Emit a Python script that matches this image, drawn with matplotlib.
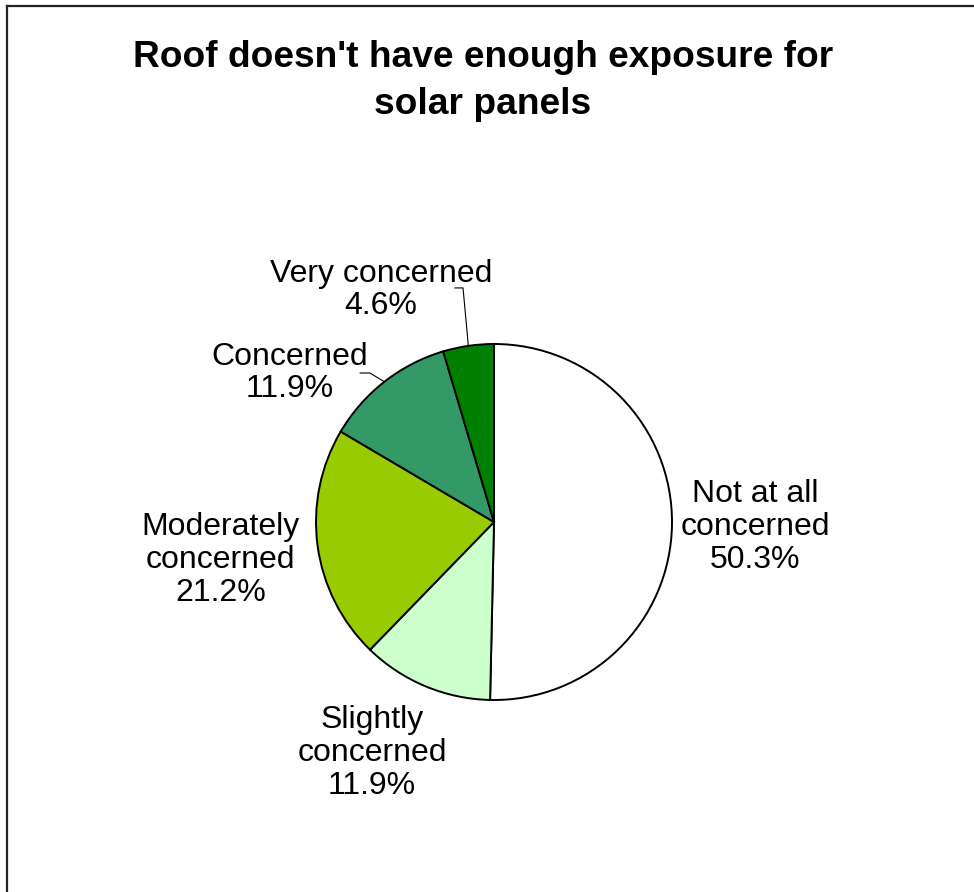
import matplotlib
matplotlib.use('Agg')
from matplotlib import pyplot as plt
from matplotlib import lines
import numpy as np

plt.rcParams['font.family'] = ['Liberation Sans', 'DejaVu Sans']

W, H = 974, 892

title = "Roof doesn't have enough exposure for\nsolar panels"
categories = ['Not at all\nconcerned', 'Slightly\nconcerned', 'Moderately\nconcerned',
              'Concerned', 'Very concerned']
shares = [50.3, 11.9, 21.2, 11.9, 4.6]
colors = ['#FFFFFF', '#CCFFCC', '#99CC00', '#339966', '#008000']

# label centres in pie-radius units (layout only)
label_pos = [(1.466, -0.028), (-0.685, -1.298), (-1.535, -0.213),
             (-1.146, 0.837), (-0.635, 1.303)]
# leader line elbows for the two small wedges on top (index -> start, elbow)
leaders = {4: [(-0.219, 1.315), (-0.174, 1.315)],
           3: [(-0.752, 0.837), (-0.697, 0.837)]}

# ----------------------------------------------------------------------------------------------------
def px(x, y):
    return x / W, 1 - y / H

fig = plt.figure(figsize=(W / 100, H / 100), dpi=100)

# frame (top and left edges visible)
fig.add_artist(lines.Line2D([7 / W, 1.0], [1 - 6 / H, 1 - 6 / H], color='#222222', lw=1.6))
fig.add_artist(lines.Line2D([7 / W, 7 / W], [1 - 6 / H, 0.0], color='#222222', lw=1.6))

fig.text(*px(483, 81), title, ha='center', va='center', fontsize=26.7,
         fontweight='bold', linespacing=1.45)

cx, cy, r = 494, 522, 178
ax = fig.add_axes([(cx - r) / W, (H - cy - r) / H, 2 * r / W, 2 * r / H])
wedges, _ = ax.pie(shares, colors=colors, startangle=90, counterclock=False,
                   radius=1.0, wedgeprops=dict(edgecolor='black', linewidth=1.4))
ax.set_xlim(-1, 1)
ax.set_ylim(-1, 1)
ax.set_aspect('equal')
ax.axis('off')

for i, (w, cat, val) in enumerate(zip(wedges, categories, shares)):
    lx, ly = label_pos[i]
    ax.text(lx, ly, '{}\n{:.1f}%'.format(cat, val), ha='center', va='center',
            fontsize=23, linespacing=1.12, clip_on=False)
    if i in leaders:
        mid = np.deg2rad((w.theta1 + w.theta2) / 2)
        pts = leaders[i] + [(np.cos(mid), np.sin(mid))]
        xs, ys = zip(*pts)
        ax.plot(xs, ys, color='black', lw=0.8, clip_on=False)

fig.savefig('out.png', dpi=100)
